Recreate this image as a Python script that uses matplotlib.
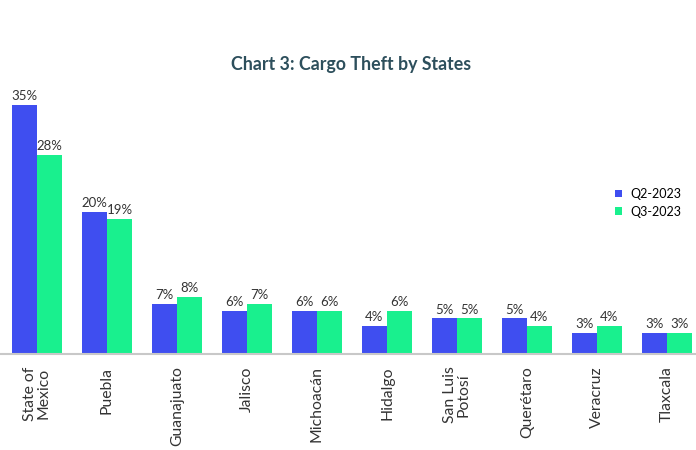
import matplotlib.pyplot as plt
import numpy as np

states = ["State of\nMexico", "Puebla", "Guanajuato", "Jalisco", "Michoacán",
          "Hidalgo", "San Luis\nPotosí", "Querétaro", "Veracruz", "Tlaxcala"]
q2_2023 = [35, 20, 7, 6, 6, 4, 5, 5, 3, 3]
q3_2023 = [28, 19, 8, 7, 6, 6, 5, 4, 4, 3]

blue = "#3f4ef0"
green = "#19f08e"
text_color = "#333333"

plt.rcParams['font.family'] = ['Lato', 'DejaVu Sans']

fig = plt.figure(figsize=(6.96, 4.5), dpi=100)
ax = fig.add_axes([0.0, 96 / 450, 1.0, 284.6 / 450])

x = np.arange(len(states))
w = 25 / 70

b1 = ax.bar(x - w / 2, q2_2023, w, color=blue, label="Q2-2023")
b2 = ax.bar(x + w / 2, q3_2023, w, color=green, label="Q3-2023")

for bars, vals in [(b1, q2_2023), (b2, q3_2023)]:
    for b, v in zip(bars, vals):
        ax.text(b.get_x() + b.get_width() / 2, b.get_height() + 0.4, f"{v}%",
                ha="center", va="bottom", fontsize=9.5, color=text_color)

ax.set_xlim(-37 / 70, 659 / 70)
ax.set_ylim(0, 40)
ax.set_xticks(x)
ax.set_xticklabels(states, rotation=90, fontsize=11.3, color=text_color,
                   linespacing=0.95)
ax.tick_params(axis="x", length=0, pad=9)
ax.set_yticks([])
for s in ["top", "right", "left"]:
    ax.spines[s].set_visible(False)
ax.spines["bottom"].set_color("#c8c8c8")
ax.spines["bottom"].set_linewidth(1.5)

ax.legend(loc="upper left", bbox_to_anchor=(615 / 696, 1 - (188 - 69.4) / 284.6),
          frameon=False, fontsize=9, handlelength=0.55, handleheight=0.55,
          handletextpad=0.7, labelspacing=0.45, borderaxespad=0, borderpad=0)

fig.text(351 / 696, 1 - 65 / 450, "Chart 3: Cargo Theft by States", ha="center",
         va="center", fontsize=12.8, fontweight="bold", color="#2d4f5c")

fig.savefig("out.png", dpi=100)
